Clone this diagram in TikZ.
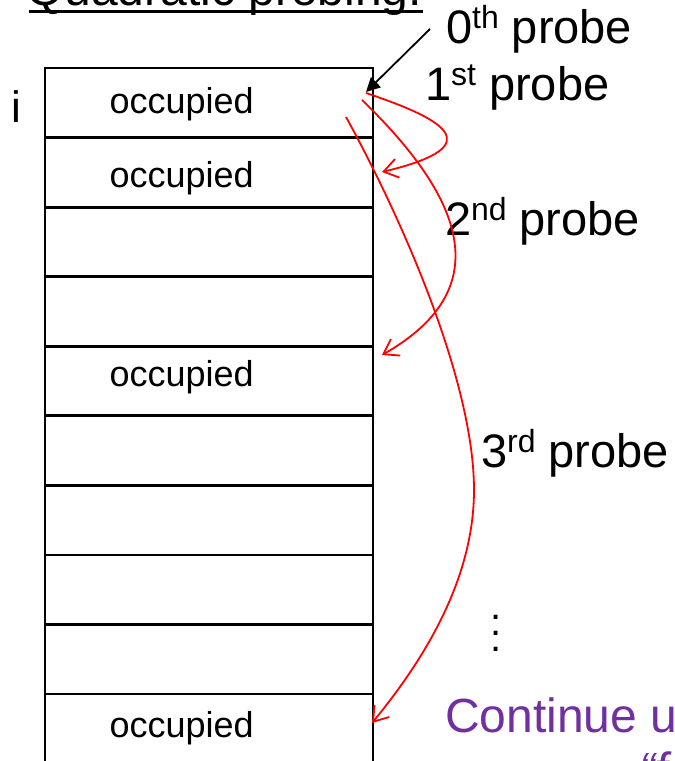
\documentclass[tikz,border=0pt]{standalone}
\usepackage{fontspec}
\setmainfont{Liberation Sans}
\usetikzlibrary{arrows.meta}
\definecolor{notepurple}{HTML}{7030A0}

% ordinal suffix raised above the digit
\newcommand{\ordsup}[1]{\raisebox{15pt}{\fontsize{32}{32}\selectfont #1}}

\begin{document}
\begin{tikzpicture}[x=1pt,y=-1pt,
  lbl/.style={inner sep=0pt, outer sep=0pt, anchor=base west},
  big/.style={font=\fontsize{47}{47}\selectfont},
  celltxt/.style={lbl, font=\fontsize{36}{36}\selectfont},
  cell/.style={draw, line width=2.8pt, minimum width=328pt, minimum height=69.56pt,
               inner sep=0pt, outer sep=0pt},
  pointer/.style={line width=1.8pt, -{Triangle[length=14pt,width=14pt]}},
  probe/.style={draw=red, line width=1.8pt, -{Straight Barb[length=14pt,width=19pt]}}]
\useasboundingbox (0,0) rectangle (675,761);
\clip (0,0) rectangle (675,761);

% title
\node[lbl, font=\fontsize{48}{48}\selectfont] (title) at (27,5) {Quadratic probing:};
\draw[line width=3pt] (29,11) -- (423,11);

% the hash table
\foreach \k in {1,...,10} {
  \node[cell] (c\k) at (209, {68 + (\k - 0.5)*69.56}) {};
}
\node[lbl, font=\fontsize{44}{44}\selectfont] (idx) at (12,122) {i};
\node[celltxt] (o1) at (109.5,113) {occupied};
\node[celltxt] (o2) at (109.5,187) {occupied};
\node[celltxt] (o5) at (109.5,386) {occupied};
\node[celltxt] (o10) at (109.5,737) {occupied};

% probe labels
\node[lbl, big] (p0) at (446,43) {0\ordsup{th} probe};
\node[lbl, big] (p1) at (425,100) {1\ordsup{st} probe};
\node[lbl, big] (p2) at (445,235) {2\ordsup{nd} probe};
\node[lbl, big] (p3) at (481,467) {3\ordsup{rd} probe};

% vertical ellipsis
\foreach \j/\yy in {1/619, 2/635, 3/651} {
  \node[inner sep=0pt, anchor=base, font=\fontsize{40}{40}\selectfont] (dot\j) at (495.7,\yy) {.};
}

% closing remark
\node[lbl, text=notepurple, font=\fontsize{48}{48}\selectfont] (cont) at (445,732) {Continue u};
\node[lbl, text=notepurple, font=\fontsize{48}{48}\selectfont\itshape] (cont2) at (639,786) {“f};

% 0th probe pointer
\coordinate (z0) at (430,29);
\coordinate (h0) at (366,92);
\draw[pointer] (z0) -- (h0);

% probe sequence arrows
\coordinate (s1) at (366,93);
\coordinate (t1) at (382,172);
\draw[probe] (s1) .. controls (440,118) and (495,145) .. (t1);

\coordinate (s2) at (362,100);
\coordinate (t2) at (382,355);
\draw[probe] (s2) .. controls (455,190) and (505,285) .. (t2);

\coordinate (s3) at (346,117);
\coordinate (m3) at (474,490);
\coordinate (t3) at (372,723);
\draw[probe] (s3) .. controls (400,215) and (474,380) .. (m3)
             .. controls (474,580) and (423,661) .. (t3);
\end{tikzpicture}
\end{document}
